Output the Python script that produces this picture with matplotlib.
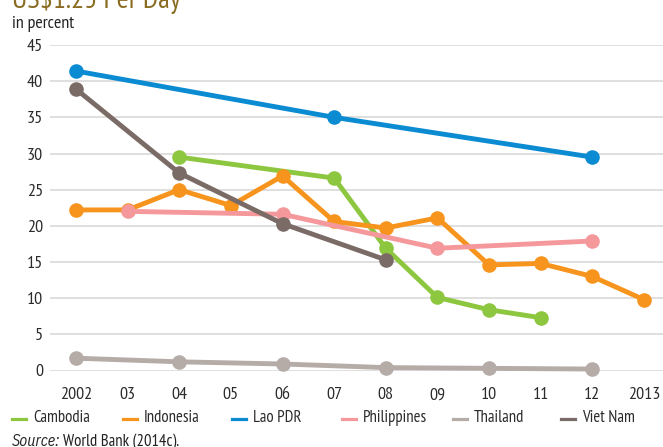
import matplotlib
matplotlib.use("Agg")
import matplotlib.pyplot as plt
from matplotlib.lines import Line2D

plt.rcParams['font.family'] = ['Liberation Sans Narrow', 'PT Sans Narrow', 'DejaVu Sans']

# ---- data ----
cambodia_years = [2004, 2007, 2008, 2009, 2010, 2011]
cambodia_vals = [29.5, 26.6, 16.9, 10.1, 8.4, 7.3]

indonesia_years = [2002, 2003, 2004, 2005, 2006, 2007, 2008, 2009, 2010, 2011, 2012, 2013]
indonesia_vals = [22.2, 22.2, 25.0, 22.8, 26.9, 20.6, 19.7, 21.1, 14.6, 14.8, 13.0, 9.8]

lao_years = [2002, 2007, 2012]
lao_vals = [41.4, 35.0, 29.5]

philippines_years = [2003, 2006, 2009, 2012]
philippines_vals = [22.0, 21.6, 16.9, 17.9]

thailand_years = [2002, 2004, 2006, 2008, 2010, 2012]
thailand_vals = [1.7, 1.2, 0.9, 0.4, 0.3, 0.2]

vietnam_years = [2002, 2004, 2006, 2008]
vietnam_vals = [38.9, 27.3, 20.3, 15.3]

series_names = ["Cambodia", "Indonesia", "Lao PDR", "Philippines", "Thailand", "Viet Nam"]
series_colors = ["#8DC63F", "#F7941D", "#0A8BD2", "#F4989C", "#B5ABA7", "#7A6B67"]

x_ticks = list(range(2002, 2014))
x_labels = ["2002", "03", "04", "05", "06", "07", "08", "09", "10", "11", "12", "2013"]
y_ticks = [0, 5, 10, 15, 20, 25, 30, 35, 40, 45]

title_text = "US$1.25 Per Day"
unit_text = "in percent"

# ---- figure ----
W, H = 663, 447
fig = plt.figure(figsize=(W / 100, H / 100), dpi=100)
ax = fig.add_axes([50 / W, (H - 370.5) / H, (W - 50) / W, 325.5 / H])

data = [
    (cambodia_years, cambodia_vals),
    (indonesia_years, indonesia_vals),
    (lao_years, lao_vals),
    (philippines_years, philippines_vals),
    (thailand_years, thailand_vals),
    (vietnam_years, vietnam_vals),
]
for i, ((xs, ys), c) in enumerate(zip(data, series_colors)):
    ax.plot(xs, ys, color=c, lw=3.5, marker='o', markersize=10.5,
            markeredgewidth=0, solid_joinstyle='round', clip_on=False, zorder=3 + i)

ax.set_xlim(2001.496, 2013.37)
ax.set_ylim(0, 45)
ax.set_xticks(x_ticks)
ax.set_xticklabels(x_labels)
ax.set_yticks(y_ticks)
ax.tick_params(axis='both', length=0, labelsize=13, colors='#2b2b2b')
ax.tick_params(axis='x', pad=12)
ax.tick_params(axis='y', pad=5)
for s in ax.spines.values():
    s.set_visible(False)
ax.grid(axis='y', color='#dcdcdc', lw=1.3)
ax.set_axisbelow(True)

# title (cut off at top) and unit label
fig.text(12 / W, 1 - 8 / H, title_text, color='#8A6D22', fontsize=21,
         va='baseline', ha='left')
fig.text(12 / W, 1 - 24 / H, unit_text, color='#222222', fontsize=13,
         va='center', ha='left')

# legend
handle_x = [12, 123, 232, 342, 453, 561]
ly = 1 - 418.5 / H
for hx, name, c in zip(handle_x, series_names, series_colors):
    fig.add_artist(Line2D([hx / W, (hx + 14) / W], [ly, ly], color=c, lw=2.3,
                          transform=fig.transFigure))
    fig.text((hx + 21) / W, ly, name, color='#2b2b2b', fontsize=12,
             va='center', ha='left')

# source
src_y = 1 - 441.5 / H
t1 = fig.text(12 / W, src_y, "Source:", style='italic', color='#222222',
              family=['IBM Plex Sans Condensed', 'PT Sans Narrow', 'DejaVu Sans'],
              fontsize=11.5, va='center', ha='left')
fig.canvas.draw()
bb = t1.get_window_extent()
fig.text((bb.x1 + 3) / W, src_y, "World Bank (2014c).", color='#222222',
         fontsize=12, va='center', ha='left')

fig.savefig("out.png", dpi=100)
